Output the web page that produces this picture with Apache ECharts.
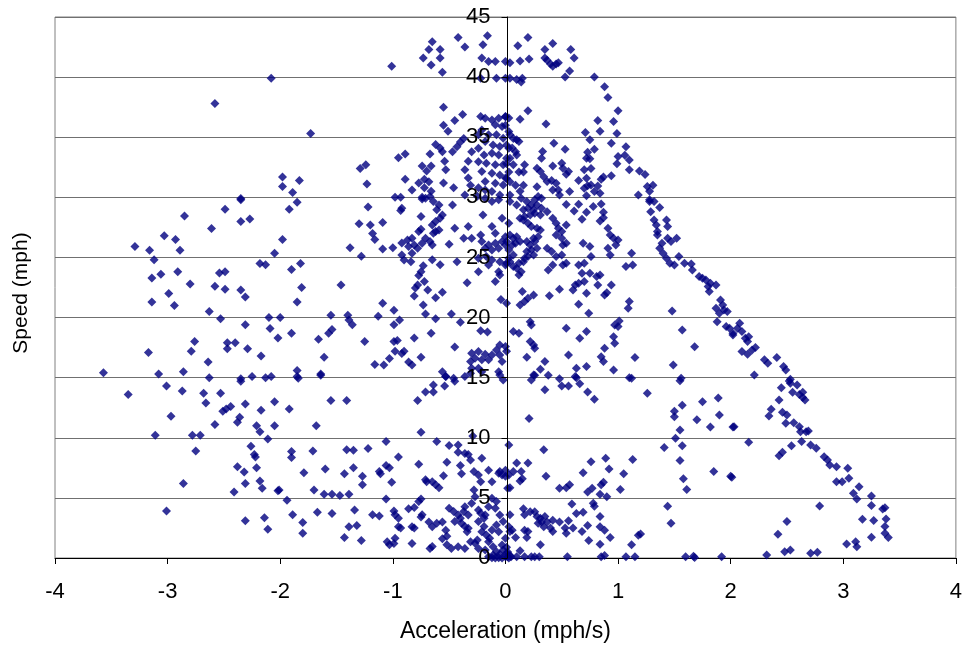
<!DOCTYPE html>
<html>
<head>
<meta charset="utf-8">
<script src="https://cdn.jsdelivr.net/npm/echarts@6/dist/echarts.min.js"></script>
<style>
  html, body { margin: 0; padding: 0; background: #fff; }
  #chart { width: 965px; height: 649px; }
</style>
</head>
<body>
<div id="chart"></div>
<script>
// Acceleration (mph/s) vs speed (mph) samples, grouped by area of the plot
const highSpeed = [
  [-2.08,39.9],[-2.58,37.8],[-1.98,31.7],[-1.98,30.9],[-2.35,29.9],
  [-1.01,40.9],[-0.73,41.6],[-0.68,42.3],[-0.65,42.95],[-0.58,42.3],[-0.58,41.6],[-0.66,41.0],[-0.56,40.4],
  [-0.42,43.3],[-0.36,42.5],[-0.16,43.45],[-0.2,42.7],[-0.21,41.6],[-0.15,41.3],[-0.09,41.3],[0,41.3],
  [-0.22,39.9],[-0.08,39.9],[0,39.9],[-0.55,37.5],[-0.38,36.9],[-0.45,36.4],[-0.55,36.0],[-0.51,35.5],[-1.73,35.3],
  [-0.95,33.3],[-0.89,33.6],[-1.29,32.4],[-1.24,32.7],[-1.23,31.1],[-1.89,30.4],[-1.83,31.4],[-0.89,31.5],
  [-0.83,30.6],[-0.98,30.0],[-0.93,30.0],
  [-0.74,32.6],[-0.7,32.2],[-0.66,32.6],[-0.72,31.5],[-0.68,31.3],[-0.77,31.2],[-0.72,30.8],[-0.66,30.5],[-0.74,30.0],
  [-0.62,34.4],[-0.58,34.1],[-0.56,33.8],[-0.67,33.6],[-0.54,33.0],[-0.53,32.3],[-0.55,31.2],[-0.46,30.8],
  [-0.47,33.8],[-0.43,34.2],[-0.4,34.6],[-0.37,34.9],[-0.36,32.3],[-0.33,33.0],[-0.3,33.8],[-0.33,31.6],
  [-0.31,31.0],[-0.36,30.2],[-0.24,30.8],[-0.18,30.6],[-0.25,30.1],
  [-0.22,36.72],[-0.18,36.58],[-0.12,36.44],[-0.06,36.58],[0,36.72],[-0.09,36.03],[-0.03,35.89],[-0.21,35.61],
  [-0.24,35.2],[-0.15,35.2],[-0.08,35.2],[-0.02,34.92],[-0.18,34.64],[-0.11,34.36],[-0.05,34.22],[-0.24,34.08],
  [-0.19,33.53],[-0.12,33.67],[-0.06,33.53],[0.01,33.25],[-0.24,32.97],[-0.17,32.84],[-0.09,32.7],[-0.02,32.7],
  [-0.21,32.14],[-0.12,32.0],[-0.05,31.86],[0.01,31.58],[-0.18,31.31],[-0.09,31.17],[-0.02,31.03],[-0.12,30.48],
  [-0.05,30.2],[0.03,35.47],[0.03,34.08],
  [0.2,43.3],[0.11,42.6],[0.42,42.8],[0.35,42.3],[0.35,41.6],[0.37,41.4],[0.4,41.1],[0.42,40.9],[0.45,41.1],
  [0.47,41.2],[0.58,42.3],[0.61,41.6],[0.57,40.5],[0.53,40.0],[0.04,41.2],[0.13,41.35],[0.21,41.5],[0.04,39.9],
  [0.1,39.8],[0.14,39.6],[0.15,39.9],[0.79,40.0],[0.88,39.2],[0.91,38.3],[1.0,37.2],[0.2,37.2],[0.13,36.5],
  [0.36,36.1],[0.82,36.4],[0.84,35.5],[0.96,36.3],[0.99,35.3],[0.71,35.4],[0.75,34.8],[0.94,34.5],[1.07,34.2],
  [0.43,34.5],[0.53,34.0],[0.79,34.0],[0.73,33.75],[0.72,33.25],[0.75,33.2],[1.0,33.4],[1.06,33.5],[1.1,33.1],
  [0.99,32.8],[1.1,32.3],[1.19,32.2],[1.24,31.9],[1.26,30.9],[1.31,31.0],[1.28,30.5],[1.18,30.2],[1.28,29.8],
  [0.7,32.3],[0.76,32.4],[0.87,31.7],[0.85,31.5],[0.94,31.8],
  [0.33,33.81],[0.32,33.25],[0.28,32.42],[0.31,32.14],[0.34,31.72],[0.28,30.89],[0.37,31.31],[0.41,31.39],
  [0.45,31.17],[0.42,30.62],[0.47,30.62],[0.48,30.2],[0.57,30.48],[0.54,31.92],[0.56,32.14],[0.5,32.84],
  [0.51,32.42],[0.42,32.61],[0.65,31.39],[0.72,31.58],[0.73,30.97],[0.7,30.75],[0.76,31.03],[0.79,30.48],
  [0.82,30.95],[0.84,30.34],[0.72,30.14],
  [0,36.7],[0.03,36.6],[0,36.0],[0.04,35.2],[0.07,34.9],[0.1,34.8],[0.12,34.65],[0.01,34.36],[0.06,34.1],
  [0.09,33.8],[0.1,33.53],[0.04,33.25],[0.01,32.8],[0.07,32.7],[0.03,32.1],[0.12,32.1],[0.16,32.1],[0.17,32.7],
  [0,31.6],[0.04,31.3],[0.09,31.0],[0.13,30.5],[0.04,30.2],[0.16,31.0]
];

const brakingMid = [
  [-2.35,29.8],[-2.49,29.0],[-2.85,28.45],[-2.35,28.0],[-2.27,28.2],[-2.61,27.4],[-3.03,26.8],[-2.93,26.5],
  [-3.29,25.9],[-3.16,25.6],[-2.89,25.6],[-3.12,24.8],[-1.98,26.5],[-2.05,25.35],[-2.18,24.5],[-2.13,24.4],
  [-3.14,23.3],[-3.06,23.6],[-2.91,23.8],[-2.8,22.8],[-2.54,23.7],[-2.49,23.8],[-2.58,22.6],[-2.49,22.35],
  [-2.35,22.3],[-2.31,21.7],[-2.99,22.0],[-3.14,21.3],[-2.94,21.0],[-2.63,20.5],[-2.53,19.9],[-2.31,19.4],
  [-2.1,20.0],[-2.0,20.0],[-2.09,19.1],[-2.02,18.3],[-2.76,18.0],[-2.79,17.2],[-3.17,17.1],[-2.47,17.9],
  [-2.4,17.9],[-2.47,17.4],[-2.29,17.4],[-2.17,16.8],[-2.64,16.3],[-3.57,15.4],[-3.08,15.3],[-2.86,15.5],
  [-2.63,15.0],[-2.35,14.9],[-2.25,15.1],[-2.13,15.0],[-2.08,15.1],
  [-1.85,29.6],[-1.92,29.0],[-1.22,29.2],[-0.92,29.1],[-0.93,28.9],[-1.3,27.8],[-1.2,27.7],[-1.09,27.9],
  [-1.18,27.0],[-1.16,26.5],[-1.38,25.8],[-1.28,25.1],[-1.09,25.7],[-1.0,25.8],[-0.92,26.2],
  [-0.74,29.87],[-0.67,30.06],[-0.71,29.92],[-0.64,29.65],[-0.59,29.37],[-0.61,28.96],[-0.56,28.54],[-0.58,28.26],
  [-0.62,27.98],[-0.65,27.7],[-0.77,27.15],[-0.75,27.35],[-0.75,28.4],[-0.64,27.01],[-0.59,27.29],[-0.67,26.32],
  [-0.65,26.04],[-0.62,27.15],[-0.47,29.37],[-0.45,27.43],[-0.37,26.6],[-0.33,27.57],[-0.3,26.6],[-0.22,26.87],
  [-0.2,28.54],[-0.12,27.57],[-0.09,27.01],[-0.03,28.26],[0,26.73],[-0.12,29.65],[-0.06,29.79],[-0.18,29.92],
  [-0.87,26.46],[-0.83,26.6],[-0.86,25.9],[-0.81,26.04],[-0.78,25.76],[-0.92,25.21],[-0.9,24.79],[-0.84,24.65],
  [-0.83,25.35],[-0.74,26.18],[-0.71,26.6],[-0.5,26.1],[-0.65,24.8],[-0.58,24.4],[-0.73,24.3],[-0.75,23.8],
  [-0.77,23.5],[-0.43,24.65],[-0.34,22.9],[-0.24,23.82],[-0.15,24.38],[-0.17,25.07],[-0.06,23.82],[-0.05,23.54],
  [-0.09,23.0],[-0.21,26.32],[-0.15,26.04],[-0.09,26.18],[-0.03,26.32],[-0.18,25.76],[-0.12,25.62],[-0.06,25.76],
  [0,26.04],[0.03,25.62],[-0.24,24.93],[-0.12,24.79],[-0.05,24.65],[0,24.38],[0.03,24.93],
  [-1.9,24.0],[-1.82,24.5],[-1.81,22.5],[-1.85,21.3],[-1.46,22.7],
  [-0.78,22.7],[-0.8,22.45],[-0.81,21.8],[-0.72,23.0],[-0.69,22.3],[-0.73,21.05],[-0.71,20.3],[-0.62,21.65],[-0.56,22.1],
  [-1.09,21.2],[-0.99,20.6],[-1.13,20.1],[-0.94,19.8],[-0.99,19.4],[-1.55,20.2],[-1.4,20.2],[-1.39,19.8],[-1.36,19.4],
  [-1.9,18.7],[-1.66,18.2],[-1.57,18.7],[-1.54,19.0],[-1.61,16.7],[-1.25,18.0],[-0.99,18.0],[-0.96,18.1],
  [-0.98,17.2],[-0.92,17.0],[-0.9,17.2],[-0.81,18.3],[-0.66,18.7],[-0.62,19.9],[-0.48,20.3],[-0.4,19.6],
  [-0.75,16.7],[-0.86,16.3],[-0.83,16.05],[-1.03,16.6],[-1.08,16.05],[-1.16,16.1],[-1.85,15.6],[-1.85,15.1],
  [-1.64,15.3],[-0.45,17.55],[-0.22,18.9],[-0.16,18.8],
  [-0.3,17.04],[-0.27,16.62],[-0.24,17.17],[-0.18,16.95],[-0.15,16.48],[-0.21,16.48],[-0.12,16.89],[-0.08,17.31],
  [-0.05,17.72],[-0.05,16.89],[-0.31,16.34],[-0.3,15.78],[-0.56,15.5],[-0.53,15.09],[-0.46,14.95],[-0.31,15.36],
  [-0.24,15.78],[-0.21,15.5],[-0.06,15.5],[-0.05,15.22],[-0.03,16.34],[-0.04,21.5],[0.01,21.2]
];

const brakingLow = [
  [-3.35,13.6],[-3.01,14.3],[-2.87,13.9],[-2.68,13.7],[-2.53,13.7],[-2.66,12.9],[-2.97,11.8],[-2.51,12.2],
  [-2.48,12.4],[-2.44,12.6],[-2.31,12.8],[-2.17,12.3],[-2.05,13.0],[-2.35,14.7],[-2.58,11.1],[-2.36,11.7],
  [-2.38,11.3],[-2.21,11.0],[-2.18,10.5],[-2.05,11.0],[-2.11,9.9],[-3.11,10.2],[-2.78,10.2],[-2.71,10.2],
  [-2.75,8.9],[-2.26,9.3],[-2.23,8.6],[-2.22,8.4],[-2.38,7.6],[-2.32,7.15],[-2.21,7.5],[-2.31,6.2],[-2.18,6.4],
  [-2.16,5.8],[-2.41,5.5],[-2.86,6.2],[-2.02,5.6],[-3.01,3.9],[-2.31,3.1],[-2.14,3.35],[-2.11,2.4],
  [-1.84,14.95],[-1.64,15.2],[-1.92,12.4],[-1.55,13.1],[-1.41,13.1],[-1.68,11.0],[-0.78,13.1],[-0.71,13.8],
  [-0.64,13.8],[-0.64,14.4],[-0.54,14.3],[-0.53,15.1],[-0.45,14.7],[-0.36,15.1],[-0.02,14.8],[-0.75,10.45],[-0.29,10.15],
  [-1.9,8.85],[-1.9,8.35],[-1.71,8.9],[-1.41,9.0],[-1.35,8.96],[-1.22,9.1],[-1.06,9.7],
  [-1.79,7.1],[-1.6,7.4],[-1.43,7.0],[-1.35,7.5],[-1.27,6.8],[-1.27,6.1],[-1.12,7.2],[-1.11,7.0],[-1.06,7.7],
  [-1.03,7.5],[-1.01,6.3],[-0.95,8.4],[-0.77,7.8],[-0.71,6.5],[-0.7,6.35],[-0.65,6.35],[-0.62,6.1],[-0.59,5.85],
  [-0.55,6.85],[-0.52,7.96],[-0.61,9.7],[-0.5,9.35],[-0.42,9.4],[-0.42,8.8],[-0.4,7.7],[-0.39,7.0],[-0.36,8.7],
  [-0.33,8.6],[-0.31,8.15],[-0.28,7.2],[-0.24,6.9],[-0.21,8.3],[-0.22,6.35],[-0.15,7.3],[-0.12,6.35],[-0.06,7.05],
  [-0.03,6.9],[-0.05,7.2],
  [-2.01,5.65],[-1.94,4.8],[-1.89,3.6],[-1.8,2.95],[-1.8,2.05],[-1.7,5.65],[-1.67,3.8],[-1.61,5.3],[-1.54,5.3],
  [-1.54,3.7],[-1.47,5.2],[-1.39,5.3],[-1.34,4.0],[-1.32,2.7],[-1.39,2.6],[-1.43,1.7],[-1.28,1.45],[-1.18,3.6],
  [-1.12,3.5],[-1.06,4.9],[-0.99,3.9],[-0.98,3.6],[-0.95,3.3],[-0.95,2.6],[-0.93,2.5],[-0.83,2.6],[-0.81,2.5],
  [-0.86,4.1],[-0.81,4.2],[-0.77,4.7],[-0.75,4.9],[-0.74,3.6],[-0.75,3.4],[-1.05,1.35],[-1.03,1.1],[-0.98,1.65],
  [-0.99,1.2],[-0.83,1.2],[-0.68,3.0],[-0.65,2.6],[-0.61,2.9],[-0.56,3.0],[-0.53,2.3],[-0.52,1.8],[-0.56,1.6],
  [-0.52,1.1],[-0.48,0.8],[-0.65,0.95],[-0.67,0.8],
  [-0.5,4.13],[-0.46,3.86],[-0.42,3.58],[-0.37,3.86],[-0.4,3.3],[-0.45,3.03],[-0.39,2.89],[-0.36,2.61],[-0.33,2.47],
  [-0.34,2.19],[-0.31,1.36],[-0.27,1.22],[-0.25,1.5],[-0.24,3.03],[-0.19,3.3],[-0.18,3.58],[-0.22,3.72],[-0.19,2.61],
  [-0.21,2.19],[-0.17,1.91],[-0.14,1.64],[-0.15,1.36],[-0.12,2.33],[-0.08,2.75],[-0.09,4.13],[-0.08,4.69],
  [-0.12,4.96],[-0.15,4.27],[-0.27,5.1],[-0.3,4.55],[-0.28,5.66],[-0.36,4.27],[-0.24,4.0],[-0.33,3.58],
  [-0.05,3.58],[-0.02,3.03],[-0.06,2.19],[0,1.64],[-0.03,1.08],[-0.11,0.94],[-0.18,0.66],[-0.24,0.8],[-0.36,0.8],
  [-0.42,0.94],[-0.15,0.11],[-0.12,0.03],[-0.09,0],[-0.06,0.03],[-0.03,0],[0,0.11],[0.03,0],[-0.11,0.25],
  [-0.05,0.31],[0.01,0.39],[-0.08,0.53],[-0.02,0.66],[0.03,9.4],[0.03,6.9],[0.02,5.8]
];

const accelMid = [
  [0.54,29.4],[0.61,28.87],[0.65,29.42],[0.72,28.76],[0.68,28.18],[0.78,29.23],[0.85,29.45],[0.87,28.76],
  [0.87,28.31],[0.84,28.04],[1.28,29.65],[1.32,29.65],[1.37,29.15],[1.29,28.81],[1.32,28.12],[1.34,27.7],
  [1.35,27.15],[1.43,28.12],[1.44,27.57],[1.35,26.87],[1.44,26.6],[1.47,26.32],[1.52,26.6],[1.39,26.18],
  [1.37,25.76],[1.4,25.35],[1.43,24.93],[1.46,24.52],[1.5,24.38],[1.54,25.07],[1.59,24.52],[1.65,24.46],
  [1.66,23.96],[1.72,23.41],[1.75,23.27],[1.78,23.13],[1.82,22.85],[1.8,22.58],[1.81,22.16],[1.87,22.71],
  [1.91,21.47],[1.93,21.05],[1.87,20.77],[1.9,20.36],[1.94,20.63],[1.88,19.66],[1.96,19.25],[1.99,19.11],[2.02,18.55],
  [0.37,28.81],[0.31,28.54],[0.42,28.26],[0.45,27.84],[0.47,27.43],[0.54,27.7],[0.5,27.15],[0.45,26.87],
  [0.5,26.6],[0.54,26.18],[0.51,26.04],[0.69,26.18],[0.75,25.9],[0.76,25.07],[0.91,27.43],[0.93,26.87],
  [0.96,26.6],[1.0,26.46],[0.98,26.04],[0.91,25.76],[0.93,25.21],[1.12,25.35],[1.07,24.24],[1.13,24.38],
  [0.37,25.76],[0.41,25.49],[0.45,25.07],[0.5,25.21],[0.51,24.38],[0.42,24.38],[0.38,23.96],[0.54,24.52],
  [0.65,24.38],[0.7,24.52],[0.68,23.68],[0.75,23.68],[0.7,22.99],[0.84,23.54],[0.81,23.41],[0.82,22.71],
  [0.62,22.71],[0.6,22.3],[0.65,22.85],[0.72,22.02],[0.94,22.71],[0.88,21.88],[0.9,22.07],[0.48,22.35],[0.39,21.82],
  [0.15,22.16],[0.25,21.88],[0.2,21.6],[0.17,21.33],[0.13,21.05],
  [0.65,21.1],[0.74,20.36],[1.1,21.33],[1.09,20.77],[1.48,20.55],[1.01,19.72],[0.97,19.38],[1.0,19.25],
  [0.22,19.66],[0.23,19.38],[0.07,18.83],[0.12,18.69],[0.22,18.0],[0.25,17.72],[0.26,17.45],[0.54,19.11],
  [0.72,18.83],[0.66,18.28],[0.96,18.41],[0.97,17.86],[0.88,17.45],[0.85,16.75],[0.87,16.34],[0.96,15.64],
  [1.15,16.67],[1.49,16.06],[1.57,18.97],[1.68,17.58],[0.19,16.7],[0.35,16.34],[0.31,15.7],[0.25,15.22],
  [0.56,16.89],[0.63,15.78],[0.62,15.09],[0.72,15.92],[1.1,15.0],[1.56,14.95],[0,17.6],[0.01,17.2],
  [0.04,29.65],[0.1,29.37],[0.14,29.93],[0.19,29.65],[0.23,29.37],[0.26,29.79],[0.29,30.06],[0.32,29.93],
  [0.16,28.96],[0.2,29.1],[0.25,28.96],[0.28,29.37],[0.32,29.1],[0.13,28.26],[0.17,28.4],[0.22,28.54],
  [0.26,28.68],[0.16,28.12],[0.2,27.84],[0.23,27.57],[0.28,27.43],[0.31,27.29],[0.03,27.84],[0.04,26.87],
  [0.07,26.6],[0.1,26.73],[0.13,26.32],[0.01,26.32],[0.06,26.04],[0.09,26.18],[0.19,26.32],[0.22,26.04],
  [0.25,26.6],[0.26,26.32],[0.29,26.73],[0.28,25.76],[0.23,25.62],[0.19,25.49],[0.2,25.07],[0.16,24.65],
  [0.12,24.52],[0.07,24.24],[0.1,24.1],[0.14,23.82],[0.12,23.54],[0.04,24.65],[0.01,24.52],[0.07,25.21],
  [0.17,24.93],[0.25,25.21],
  [1.97,20.5],[2.02,18.69],[2.06,19.11],[2.08,19.52],[2.1,18.83],[2.13,18.28],[2.16,18.41],[2.15,18.0],
  [2.1,17.17],[2.15,16.95],[2.19,17.31],[2.22,17.5],[2.3,16.48],[2.33,16.2],[2.41,16.67],[2.47,15.92],
  [2.49,15.64],[2.21,15.22],[2.53,14.86]
];

const accelLow = [
  [0.34,9.0],[0.21,11.6],[0.23,14.8],[0.26,15.2],[0.38,15.2],[0.48,14.9],[0.5,14.3],[0.56,14.3],[0.63,15.0],
  [0.66,14.5],[0.73,13.8],[0.79,13.2],[0.35,14.0],[1.12,14.95],[1.26,13.7],[1.55,14.75],[1.5,12.2],[1.5,11.75],
  [1.57,12.7],[1.55,10.65],[1.51,9.96],[1.57,9.34],[1.41,9.2],[1.55,8.1],[1.58,6.6],[1.61,5.7],[1.7,11.5],
  [1.75,13.0],[1.82,10.9],[1.89,13.3],[1.9,11.9],[2.02,10.9],[1.85,7.2],[2.0,6.8],
  [0,7.3],[0,6.8],[0.07,7.2],[0.1,7.9],[0.14,7.2],[0.13,6.4],[0.15,6.6],[0.04,5.85],[0.2,7.9],[0.36,6.8],
  [0.48,5.8],[0.54,5.85],[0.57,6.1],[0.69,7.1],[0.73,5.5],[0.77,5.8],[0.76,8.0],[0.84,5.3],[0.85,6.1],[0.87,6.3],
  [0.9,5.1],[0.89,8.3],[0.92,7.4],[1.02,5.7],[1.05,7.0],[1.13,8.2],[1.44,4.3],[1.47,2.9],[1.18,1.9],[1.2,2.0],
  [1.12,1.1],[1.6,0.1],[1.67,0.15],[1.68,0.05],[1.92,0.1],[1.07,0.1],[1.15,0.1],[0.85,0.1],[0.88,0.2],[0.55,0.1],
  [0.3,0.1],[0.26,0.1],[0.23,0.1],[0.17,0.1],[0.1,0.1],[0.05,0.1],[0.02,0.1],
  [0.59,4.5],[0.63,3.7],[0.69,3.8],[0.78,4.55],[0.79,4.3],[0.84,3.45],[0.73,2.7],[0.68,2.2],[0.74,1.45],
  [0.84,2.6],[0.88,2.3],[0.93,1.7],[0.84,1.15],
  [0.04,3.6],[0.16,4.1],[0.17,3.6],[0.22,3.85],[0.26,3.85],[0.28,3.45],[0.31,3.3],[0.32,3.0],[0.29,2.9],
  [0.35,3.45],[0.37,3.0],[0.42,3.15],[0.48,3.0],[0.56,3.1],[0.53,2.5],[0.54,2.05],[0.6,2.5],[0.34,2.6],[0.4,2.5],
  [0.42,2.2],[0.17,2.3],[0.2,2.2],[0.19,1.7],[0.09,1.7],[0.03,2.6],[0.06,2.3],[0.04,2.2],[0.31,1.1],[0.13,0.6],
  [0.01,0.9],[0.02,0.5],[0.04,0.2],
  [2.52,14.72],[2.53,14.53],[2.59,14.39],[2.45,14.17],[2.55,13.78],[2.61,13.61],[2.64,13.78],[2.64,13.34],
  [2.66,13.14],[2.43,13.14],[2.36,12.37],[2.34,11.82],[2.46,12.12],[2.5,11.9],[2.49,11.2],[2.56,11.26],
  [2.61,10.92],[2.62,10.51],[2.67,10.51],[2.69,10.57],[2.03,10.92],[2.16,9.62],[2.63,9.68],[2.54,9.34],
  [2.46,8.79],[2.43,8.51],[2.71,9.4],[2.76,9.12],[2.83,8.43],[2.86,8.15],[2.88,7.74],[2.94,7.6],[3.04,7.46],
  [3.05,6.63],[2.94,6.35],[2.99,6.35],[3.14,5.93],[3.09,5.38],[3.12,4.91],[3.25,5.16],[3.25,4.36],[3.37,4.19],
  [3.35,4.08],[3.17,3.22],[3.27,3.11],[3.38,3.25],[3.37,2.62],[3.37,2.06],[3.4,1.7],[3.25,1.72],[3.03,1.17],
  [3.11,1.36],[3.12,0.94],[2.01,6.71],[2.79,4.33],[2.5,3.03],[2.42,1.97],[2.32,0.25],[2.48,0.53],[2.53,0.67],
  [2.71,0.39],[2.77,0.47]
];

// Axis ticks
const xTicks = [-4, -3, -2, -1, 0, 1, 2, 3, 4];
const yTicks = [0, 5, 10, 15, 20, 25, 30, 35, 40, 45];

const FONT = 'Liberation Sans, Arial, sans-serif';
const GRID_LEFT = 55, GRID_RIGHT = 5;
const chartEl = document.getElementById('chart');
const chart = echarts.init(chartEl, null, { renderer: 'canvas' });

// The speed axis sits on zero acceleration, so shift it from the grid's left edge
const plotWidth = chartEl.clientWidth - GRID_LEFT - GRID_RIGHT;
const zeroShift = plotWidth * (0 - xTicks[0]) / (xTicks[xTicks.length - 1] - xTicks[0]);

const speedScale = {
  type: 'value',
  position: 'left',
  offset: -zeroShift,
  min: yTicks[0], max: yTicks[yTicks.length - 1], interval: 5
};

chart.setOption({
  animation: false,
  backgroundColor: '#ffffff',
  grid: {
    left: GRID_LEFT, right: GRID_RIGHT, top: 17, bottom: 91,
    show: true, borderColor: '#808080', borderWidth: 1, backgroundColor: '#ffffff'
  },
  xAxis: {
    type: 'value',
    min: xTicks[0], max: xTicks[xTicks.length - 1], interval: 1,
    name: 'Acceleration (mph/s)',
    nameLocation: 'middle',
    nameGap: 62,
    nameTextStyle: { fontFamily: FONT, fontSize: 23, color: '#000' },
    axisLine: { onZero: false, lineStyle: { color: '#000', width: 1 } },
    axisTick: { show: true, inside: false, length: 6, lineStyle: { color: '#000' } },
    axisLabel: { fontFamily: FONT, fontSize: 22, color: '#000', margin: 23 },
    splitLine: { show: false }
  },
  yAxis: [
    // horizontal gridlines behind the markers
    Object.assign({}, speedScale, {
      axisLine: { show: false },
      axisTick: { show: false },
      axisLabel: { show: false },
      splitLine: { show: true, lineStyle: { color: '#707070', width: 1 } }
    }),
    // axis line, ticks and labels drawn above the markers
    Object.assign({}, speedScale, {
      z: 10,
      axisLine: { show: true, onZero: false, lineStyle: { color: '#000', width: 1 } },
      axisTick: { show: true, inside: false, length: 6, lineStyle: { color: '#000' } },
      axisLabel: { fontFamily: FONT, fontSize: 22, color: '#000', margin: 17 },
      splitLine: { show: false }
    })
  ],
  graphic: [{
    type: 'text',
    x: 21, y: 293,
    rotation: Math.PI / 2,
    style: {
      text: 'Speed (mph)',
      font: '21px ' + FONT,
      fill: '#000',
      textAlign: 'center',
      textVerticalAlign: 'middle'
    }
  }],
  series: [{
    type: 'scatter',
    yAxisIndex: 0,
    symbol: 'diamond',
    symbolSize: [9, 9],
    itemStyle: { color: '#000080' },
    data: highSpeed.concat(brakingMid, brakingLow, accelMid, accelLow)
  }]
});
</script>
</body>
</html>
